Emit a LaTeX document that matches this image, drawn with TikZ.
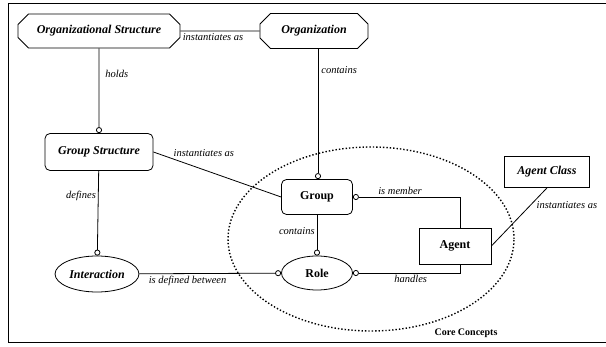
\documentclass[tikz,border=0pt]{standalone}
\usepackage{fontspec}
\setmainfont{Liberation Serif}
\usetikzlibrary{arrows.meta,shapes.misc,shapes.geometric}

\tikzset{
  concept/.style={draw, line width=.8pt, font=\fontsize{12}{14}\selectfont\bfseries\itshape, inner sep=2pt},
  octa/.style={concept, chamfered rectangle, chamfered rectangle xsep=9pt},
  rounded/.style={concept, rectangle, rounded corners=5pt},
  oval/.style={concept, ellipse},
  box/.style={concept, rectangle},
  core/.style={font=\fontsize{12}{14}\selectfont\bfseries},
  rel/.style={font=\fontsize{10.5}{12}\selectfont\itshape, inner sep=2pt},
  link/.style={line width=.8pt},
  ringend/.style={link, -{Circle[open,length=6pt,width=6pt]}},
  ringstart/.style={link, {Circle[open,length=6pt,width=6pt]}-}
}

\begin{document}
\begin{tikzpicture}[x=1pt,y=-1pt]
			\useasboundingbox (0,0) rectangle (606,347);
			
			% Draw the frame
			\draw[line width=1pt] (606,4) -- (8,4) -- (8,343) -- (606,343);
			
			% Draw the core concepts area
			\draw[dotted, line width=1.4pt] (371,239) ellipse [x radius=143pt, y radius=92pt];
			\node[core, font=\fontsize{10}{12}\selectfont\bfseries] (corelabel) at (466,333) {Core Concepts};
			
			% Draw the structure nodes
			\node[octa, minimum width=162pt, minimum height=34pt] (orgstruct) at (99,31) {Organizational Structure};
			\node[octa, minimum width=108pt, minimum height=35pt] (org) at (314,31) {Organization};
			\node[rounded, minimum width=108pt, minimum height=37pt] (grpstruct) at (99,152) {Group Structure};
			\node[oval, minimum width=69pt, minimum height=36pt] (interaction) at (97,274) {Interaction};
			\node[box, minimum width=85pt, minimum height=31pt] (agentclass) at (547,172) {Agent Class};
			
			% Draw the core nodes
			\node[rounded, core, minimum width=71pt, minimum height=35pt] (group) at (317,197) {Group};
			\node[oval, core, minimum width=71pt, minimum height=34pt] (role) at (317,273) {Role};
			\node[box, core, minimum width=72pt, minimum height=36pt] (agent) at (455,246) {Agent};
			
			% Draw the relations
			\draw[link] (orgstruct) -- node[rel, pos=0, below right] {instantiates as} (org);
			\draw[ringend] (orgstruct) -- node[rel, pos=0.3, right=4pt] {holds} (grpstruct);
			\draw[ringend] ([xshift=4pt]org.south) -- node[rel, pos=0.16, right=1pt] {contains} ([xshift=4pt]org.south |- group.north);
			\draw[link] (grpstruct.east) -- node[rel, pos=0.14, anchor=south west, yshift=-1pt] {instantiates as} (group.west);
			\draw[ringend] (grpstruct) -- node[rel, pos=0.3, left=0pt] {defines} (interaction);
			\draw[ringstart] (group.east) -| node[rel, pos=0.22, above] {is member} ([xshift=5pt]agent.north);
			\draw[ringend] (group) -- node[rel, pos=0.4, left=0pt] {contains} (role);
			\draw[ringend] (interaction) -- node[rel, pos=0.34, below] {is defined between} (role);
			\draw[ringstart] (role.east) -| node[rel, pos=0.27, below] {handles} ([xshift=5pt]agent.south);
			\draw[link] (agent.east) -- node[rel, pos=0.7, right=4pt] {instantiates as} (agentclass.south);
		\end{tikzpicture}
\end{document}
